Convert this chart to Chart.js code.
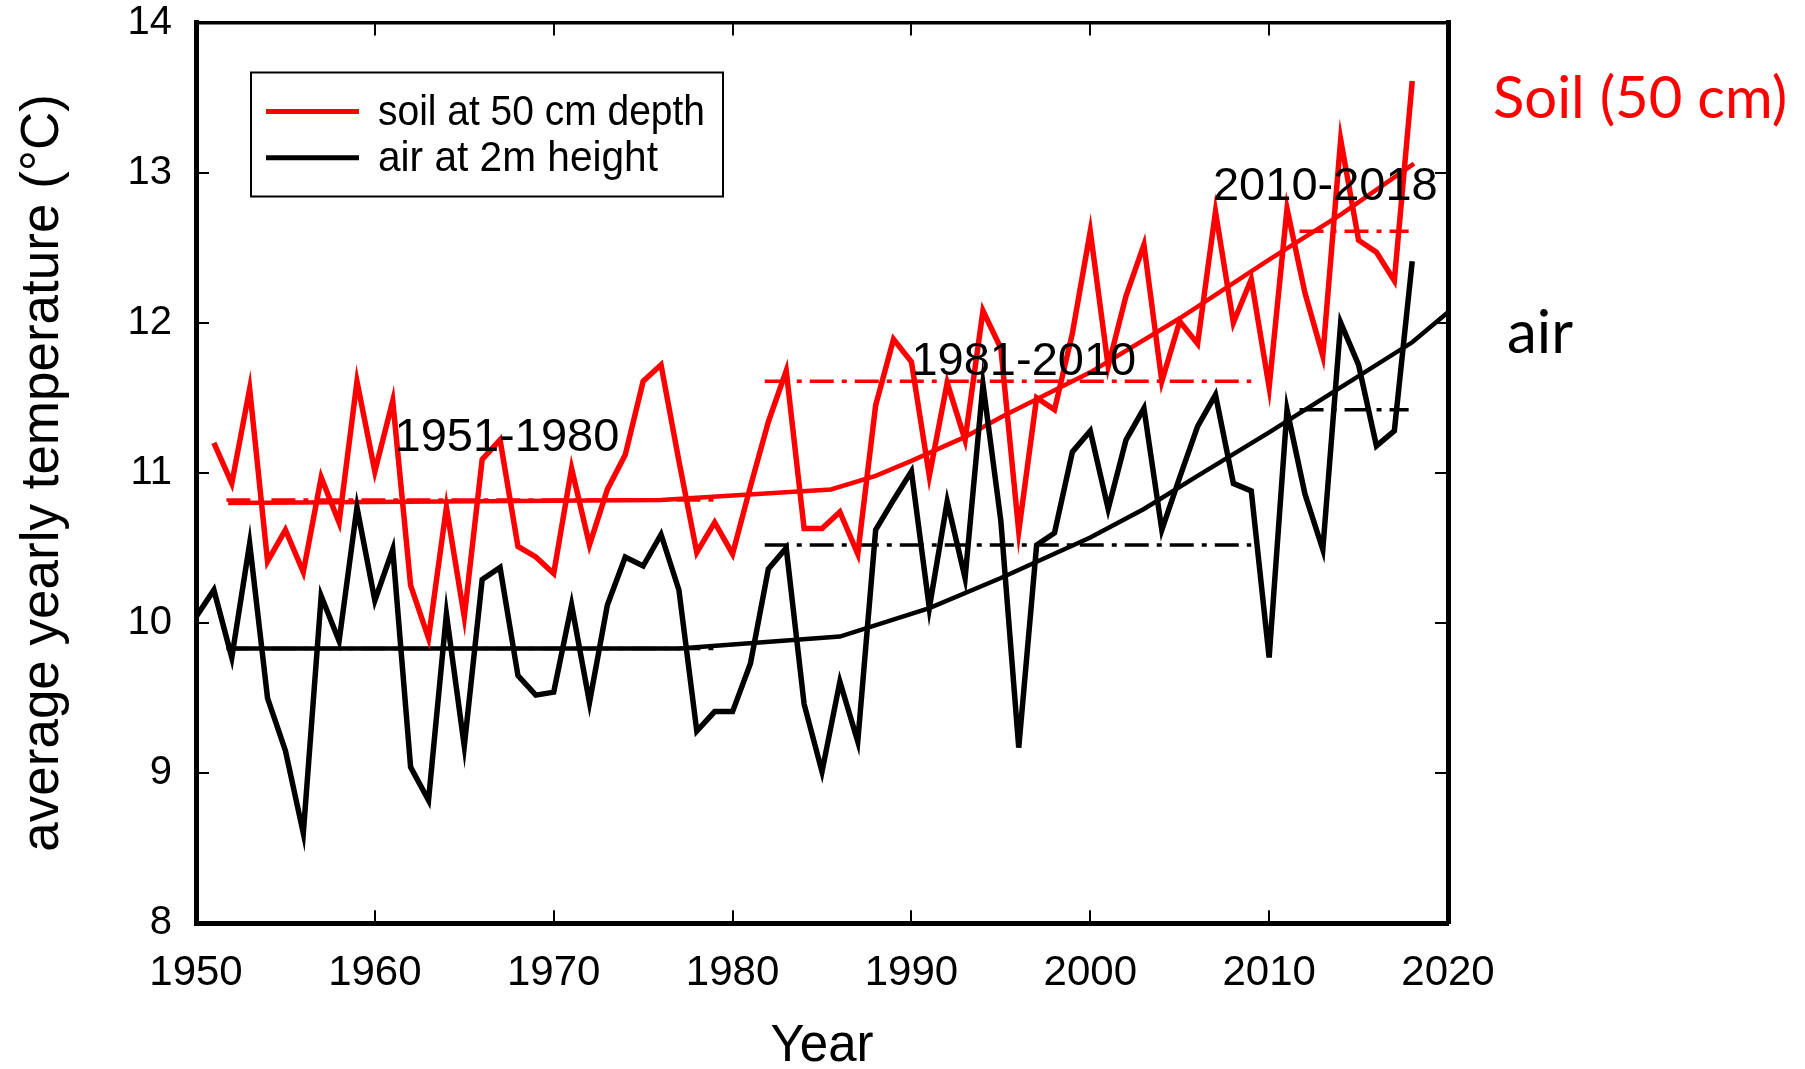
<!DOCTYPE html>
<html>
<head>
<meta charset="utf-8">
<script src="https://cdn.jsdelivr.net/npm/chart.js@4.4.1/dist/chart.umd.min.js"></script>
<style>
  html, body { margin: 0; padding: 0; background: #fff; }
  #wrap { width: 1805px; height: 1069px; }
</style>
</head>
<body>
<div id="wrap"><canvas id="Grafico" width="1805" height="1069"></canvas></div>
<script>
// yearly mean temperatures (°C)
const soilYears = [1951, 1952, 1953, 1954, 1955, 1956, 1957, 1958, 1959, 1960,
  1961, 1962, 1963, 1964, 1965, 1966, 1967, 1968, 1969, 1970,
  1971, 1972, 1973, 1974, 1975, 1976, 1977, 1978, 1979, 1980,
  1981, 1982, 1983, 1984, 1985, 1986, 1987, 1988, 1989, 1990,
  1991, 1992, 1993, 1994, 1995, 1996, 1997, 1998, 1999, 2000,
  2001, 2002, 2003, 2004, 2005, 2006, 2007, 2008, 2009, 2010,
  2011, 2012, 2013, 2014, 2015, 2016, 2017, 2018];
const soilTemp = [11.20, 10.93, 11.56, 10.41, 10.62, 10.34, 10.97, 10.67, 11.61, 11.01,
  11.48, 10.25, 9.90, 10.77, 10.04, 11.09, 11.22, 10.51, 10.44, 10.33,
  11.03, 10.52, 10.89, 11.12, 11.61, 11.72, 11.08, 10.47, 10.67, 10.46,
  10.91, 11.34, 11.68, 10.63, 10.63, 10.74, 10.46, 11.45, 11.89, 11.74,
  10.98, 11.60, 11.22, 12.08, 11.83, 10.61, 11.50, 11.42, 11.93, 12.61,
  11.71, 12.18, 12.52, 11.61, 12.01, 11.86, 12.74, 12.00, 12.29, 11.57,
  12.76, 12.20, 11.78, 13.22, 12.55, 12.47, 12.28, 13.61];

const airYears = [1950, 1951, 1952, 1953, 1954, 1955, 1956, 1957, 1958, 1959, 1960,
  1961, 1962, 1963, 1964, 1965, 1966, 1967, 1968, 1969, 1970,
  1971, 1972, 1973, 1974, 1975, 1976, 1977, 1978, 1979, 1980,
  1981, 1982, 1983, 1984, 1985, 1986, 1987, 1988, 1989, 1990,
  1991, 1992, 1993, 1994, 1995, 1996, 1997, 1998, 1999, 2000,
  2001, 2002, 2003, 2004, 2005, 2006, 2007, 2008, 2009, 2010,
  2011, 2012, 2013, 2014, 2015, 2016, 2017, 2018];
const airTemp = [10.04, 10.22, 9.77, 10.53, 9.50, 9.15, 8.60, 10.18, 9.88, 10.77, 10.15,
  10.49, 9.04, 8.82, 10.06, 9.18, 10.29, 10.37, 9.65, 9.52, 9.54,
  10.12, 9.47, 10.12, 10.44, 10.38, 10.59, 10.22, 9.28, 9.41, 9.41,
  9.73, 10.36, 10.50, 9.46, 9.01, 9.61, 9.21, 10.62, 10.82, 11.01,
  10.10, 10.81, 10.30, 11.59, 10.68, 9.17, 10.52, 10.60, 11.14, 11.28,
  10.76, 11.22, 11.43, 10.62, 10.97, 11.31, 11.52, 10.93, 10.88, 9.77,
  11.42, 10.86, 10.49, 12.00, 11.72, 11.18, 11.28, 12.41];

// smoothed trends
const soilTrendYears = [1951.8, 1976, 1980, 1985.5, 1988, 1990, 1993, 1995, 1997, 2000, 2005, 2010, 2014, 2018.1];
const soilTrend = [10.80, 10.82, 10.85, 10.89, 10.98, 11.08, 11.24, 11.37, 11.49, 11.67, 12.03, 12.42, 12.72, 13.06];
const airTrendYears = [1952, 1977, 1986, 1991, 1995, 2000, 2003, 2006, 2010, 2014, 2018, 2020];
const airTrend = [9.83, 9.83, 9.91, 10.10, 10.30, 10.57, 10.76, 10.98, 11.27, 11.57, 11.87, 12.07];

// period means
const periodLabels = ['1951-1980', '1981-2010', '2010-2018'];
const periodFrom = [1951.7, 1981.8, 2011.7];
const periodTo = [1979.1, 2009.0, 2017.8];
const soilMean = [10.82, 11.61, 12.61];
const airMean = [9.83, 10.52, 11.42];

// axis ticks
const yearTicks = [1950, 1960, 1970, 1980, 1990, 2000, 2010, 2020];
const tempTicks = [8, 9, 10, 11, 12, 13, 14];

const RED = '#ff0000';
const BLACK = '#000000';
const ARIAL = '"Liberation Sans", Arial, sans-serif';
const CALIBRI = 'Lato, "Open Sans", sans-serif';

Chart.defaults.font.family = ARIAL;
Chart.defaults.color = BLACK;

function pts(xs, ys) {
  return xs.map(function (x, i) { return { x: x, y: ys[i] }; });
}

const datasets = [
  { label: 'soil at 50 cm depth', data: pts(soilYears, soilTemp), borderColor: RED, borderWidth: 5.5 },
  { label: 'air at 2m height', data: pts(airYears, airTemp), borderColor: BLACK, borderWidth: 5.5 },
  { label: 'soil trend', data: pts(soilTrendYears, soilTrend), borderColor: RED, borderWidth: 4.5 },
  { label: 'air trend', data: pts(airTrendYears, airTrend), borderColor: BLACK, borderWidth: 4.5 }
];
periodLabels.forEach(function (p, i) {
  datasets.push({
    label: 'soil ' + p,
    data: [{ x: periodFrom[i], y: soilMean[i] }, { x: periodTo[i], y: soilMean[i] }],
    borderColor: RED, borderWidth: 3.5, borderDash: [24, 8, 5, 8]
  });
  datasets.push({
    label: 'air ' + p,
    data: [{ x: periodFrom[i], y: airMean[i] }, { x: periodTo[i], y: airMean[i] }],
    borderColor: BLACK, borderWidth: 3.5, borderDash: [24, 8, 5, 8]
  });
});
datasets.forEach(function (d) {
  d.pointRadius = 0;
  d.tension = 0;
  d.fill = false;
  d.borderJoinStyle = 'miter';
});

const gridOpts = { drawOnChartArea: false, color: BLACK, lineWidth: 2, tickLength: -13 };

function noPad(s) {
  s.paddingTop = 0;
  s.paddingBottom = 0;
}

// legend, period labels and side labels
const overlay = {
  id: 'overlay',
  afterDraw(chart) {
    const c = chart.ctx;
    const a = chart.chartArea;
    const sx = chart.scales.x;
    const sy = chart.scales.y;
    c.save();

    // legend box
    const lx = a.left + 55, ly = a.top + 50;
    c.fillStyle = '#fff';
    c.fillRect(lx, ly, 472, 124);
    c.strokeStyle = BLACK;
    c.lineWidth = 2;
    c.strokeRect(lx, ly, 472, 124);
    c.font = '43px ' + ARIAL;
    c.textBaseline = 'alphabetic';
    c.textAlign = 'left';
    [0, 1].forEach(function (i) {
      const ds = chart.data.datasets[i];
      const yy = ly + 39 + i * 46.3;
      c.strokeStyle = ds.borderColor;
      c.lineWidth = 5;
      c.beginPath();
      c.moveTo(lx + 15, yy);
      c.lineTo(lx + 108, yy);
      c.stroke();
      c.fillStyle = BLACK;
      c.fillText(ds.label, lx + 127, ly + 52.3 + i * 46, i === 0 ? 327 : 280);
    });

    // period labels
    const anchors = [[1961.1, 11.145], [1990.0, 11.652], [2006.86, 12.817]];
    c.font = '47px ' + ARIAL;
    c.fillStyle = BLACK;
    periodLabels.forEach(function (p, i) {
      c.fillText(p, sx.getPixelForValue(anchors[i][0]), sy.getPixelForValue(anchors[i][1]), 228);
    });

    // side labels
    c.font = '58px ' + CALIBRI;
    c.fillStyle = RED;
    c.fillText('Soil (50 cm)', a.right + 45, sy.getPixelForValue(13.362), 300);
    c.font = '60px ' + CALIBRI;
    c.fillStyle = BLACK;
    c.fillText('air', a.right + 59, sy.getPixelForValue(11.796));

    c.restore();
  }
};

const config = {
  type: 'line',
  data: { datasets },
  options: {
    responsive: false,
    animation: false,
    events: [],
    layout: { padding: 0 },
    plugins: { legend: { display: false }, tooltip: { enabled: false } },
    scales: {
      x: {
        type: 'linear', position: 'bottom', min: 1950, max: 2020,
        afterBuildTicks: function (s) { s.ticks = yearTicks.map(function (v) { return { value: v }; }); },
        afterFit: function (s) { s.height = 145.7; },
        ticks: {
          font: { size: 42, lineHeight: 1 }, color: BLACK, padding: 42,
          maxRotation: 0, autoSkip: false,
          callback: function (v) { return String(v); }
        },
        grid: gridOpts,
        border: { color: BLACK, width: 5 },
        title: { display: true, text: 'Year', color: BLACK, font: { size: 51, lineHeight: 0.85 }, padding: 0 }
      },
      x2: {
        type: 'linear', position: 'top', min: 1950, max: 2020,
        afterBuildTicks: function (s) { s.ticks = yearTicks.map(function (v) { return { value: v }; }); },
        afterFit: function (s) { s.height = 22.5; },
        ticks: { display: false },
        grid: gridOpts,
        border: { color: BLACK, width: 3.5 }
      },
      y: {
        type: 'linear', position: 'left', min: 8, max: 14,
        afterBuildTicks: function (s) { s.ticks = tempTicks.map(function (v) { return { value: v }; }); },
        afterFit: function (s) { s.width = 196; noPad(s); },
        ticks: { font: { size: 40, lineHeight: 1 }, color: BLACK, padding: 37 },
        grid: gridOpts,
        border: { color: BLACK, width: 5 },
        title: {
          display: true, text: 'average yearly temperature (°C)', color: BLACK,
          font: { size: 53, lineHeight: 0.95 }, padding: { top: 18, bottom: 0 }
        }
      },
      y2: {
        type: 'linear', position: 'right', min: 8, max: 14,
        afterBuildTicks: function (s) { s.ticks = tempTicks.map(function (v) { return { value: v }; }); },
        afterFit: function (s) { s.width = 357; noPad(s); },
        ticks: { display: false },
        grid: gridOpts,
        border: { color: BLACK, width: 5 }
      }
    }
  },
  plugins: [overlay]
};

const Grafico = new Chart(document.getElementById('Grafico').getContext('2d'), config);
</script>
</body>
</html>
